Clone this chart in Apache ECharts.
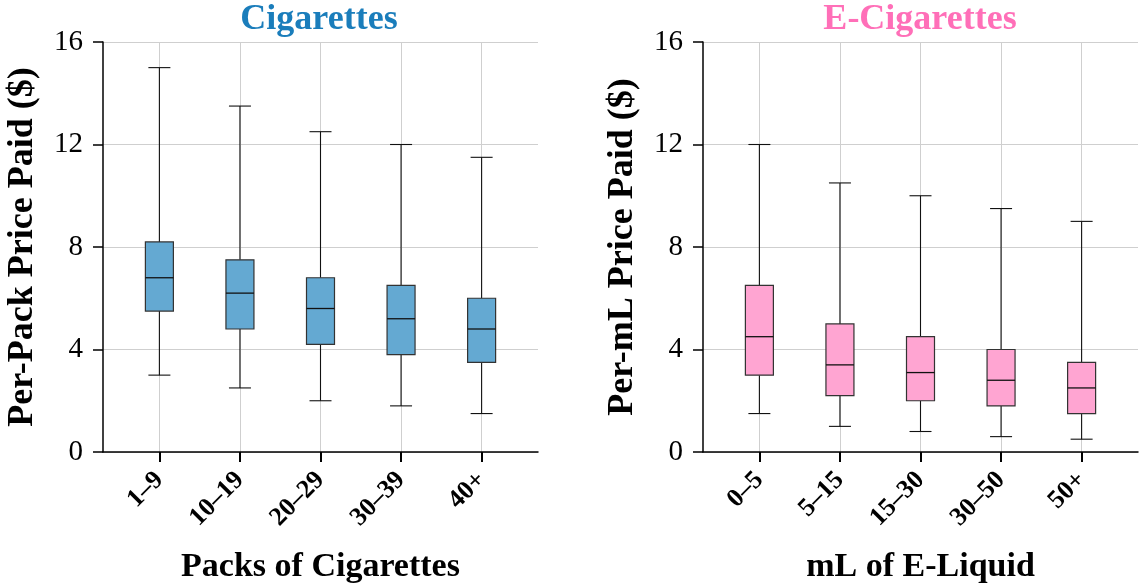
<!DOCTYPE html>
<html><head><meta charset="utf-8">
<script src="https://cdn.jsdelivr.net/npm/echarts@6/dist/echarts.min.js"></script>
<style>html,body{margin:0;padding:0;background:#fff}#c{width:1144px;height:588px}</style>
</head><body><div id="c"></div>
<script>
// ---- data ----
const cigCategories = ['1–9', '10–19', '20–29', '30–39', '40+'];
const cigLow    = [3.0, 2.5, 2.0, 1.8, 1.5];
const cigQ1     = [5.5, 4.8, 4.2, 3.8, 3.5];
const cigMedian = [6.8, 6.2, 5.6, 5.2, 4.8];
const cigQ3     = [8.2, 7.5, 6.8, 6.5, 6.0];
const cigHigh   = [15.0, 13.5, 12.5, 12.0, 11.5];

const ecigCategories = ['0–5', '5–15', '15–30', '30–50', '50+'];
const ecigLow    = [1.5, 1.0, 0.8, 0.6, 0.5];
const ecigQ1     = [3.0, 2.2, 2.0, 1.8, 1.5];
const ecigMedian = [4.5, 3.4, 3.1, 2.8, 2.5];
const ecigQ3     = [6.5, 5.0, 4.5, 4.0, 3.5];
const ecigHigh   = [12.0, 10.5, 10.0, 9.5, 9.0];

const yTickValues = [0, 4, 8, 12, 16];

// ---- build ----
const FONT = '"Liberation Serif", "Times New Roman", serif';
function rows(cats, lo, q1, md, q3, hi) {
  return cats.map((c, i) => [i + 1, lo[i], q1[i], md[i], q3[i], hi[i]]);
}
function makeRender(fill) {
  return function (params, api) {
    const x = api.value(0);
    const lo = api.coord([x, api.value(1)]);
    const q1 = api.coord([x, api.value(2)]);
    const md = api.coord([x, api.value(3)]);
    const q3 = api.coord([x, api.value(4)]);
    const hi = api.coord([x, api.value(5)]);
    const cx = lo[0];
    const bw = 28, cw = 22;
    const ls = { stroke: '#111', lineWidth: 1.1 };
    return {
      type: 'group',
      children: [
        { type: 'line', shape: { x1: cx, y1: q3[1], x2: cx, y2: hi[1] }, style: ls },
        { type: 'line', shape: { x1: cx, y1: lo[1], x2: cx, y2: q1[1] }, style: ls },
        { type: 'line', shape: { x1: cx - cw / 2, y1: hi[1], x2: cx + cw / 2, y2: hi[1] }, style: ls },
        { type: 'line', shape: { x1: cx - cw / 2, y1: lo[1], x2: cx + cw / 2, y2: lo[1] }, style: ls },
        { type: 'rect', shape: { x: cx - bw / 2, y: q3[1], width: bw, height: q1[1] - q3[1] },
          style: { fill: fill, stroke: '#333', lineWidth: 1.2 } },
        { type: 'line', shape: { x1: cx - bw / 2, y1: md[1], x2: cx + bw / 2, y2: md[1] },
          style: { stroke: '#111', lineWidth: 1.3 } }
      ]
    };
  };
}
function xAxisFor(idx, cats, name) {
  const pos = cats.map((c, i) => i + 1);
  return {
    type: 'value', gridIndex: idx, min: 0.3, max: 5.7,
    name: name, nameLocation: 'middle', nameGap: 98,
    nameTextStyle: { fontFamily: FONT, fontWeight: 'bold', fontSize: 34, color: '#000' },
    axisLine: { show: true, onZero: false, lineStyle: { color: '#000', width: 1.5 } },
    axisTick: { show: true, customValues: pos, length: 10, lineStyle: { color: '#000', width: 2 } },
    axisLabel: {
      customValues: pos, rotate: 45, margin: 24, padding: [22, 0, 0, 0],
      formatter: v => cats[Math.round(v) - 1],
      fontFamily: FONT, fontWeight: 'bold', fontSize: 26, color: '#000'
    },
    splitLine: { show: true, lineStyle: { color: '#cfcfcf', width: 1 } }
  };
}
function yAxisFor(idx, name) {
  return {
    type: 'value', gridIndex: idx, min: 0, max: 16, interval: 4,
    name: name, nameLocation: 'middle', nameGap: 62, nameRotate: 90,
    nameTextStyle: { fontFamily: FONT, fontWeight: 'bold', fontSize: 36, color: '#000' },
    axisLine: { show: true, lineStyle: { color: '#000', width: 1.5 } },
    axisTick: { show: true, length: 10, lineStyle: { color: '#000', width: 1.5 } },
    axisLabel: {
      margin: 20, fontFamily: FONT, fontSize: 29, color: '#000',
      customValues: yTickValues
    },
    splitLine: { show: true, lineStyle: { color: '#cfcfcf', width: 1 } }
  };
}

const option = {
  animation: false,
  backgroundColor: '#fff',
  title: [
    { text: 'Cigarettes', left: 314, top: -3, textAlign: 'center',
      textStyle: { fontFamily: FONT, fontWeight: 'bold', fontSize: 36, color: '#1a7dbb' } },
    { text: 'E-Cigarettes', left: 915, top: -3, textAlign: 'center',
      textStyle: { fontFamily: FONT, fontWeight: 'bold', fontSize: 36, color: '#ff6fb8' } }
  ],
  grid: [
    { left: 103, right: 606, top: 42, bottom: 136, containLabel: false, outerBoundsMode: 'none' },
    { left: 703, right: 6, top: 42, bottom: 136, containLabel: false, outerBoundsMode: 'none' }
  ],
  xAxis: [
    xAxisFor(0, cigCategories, 'Packs of Cigarettes'),
    xAxisFor(1, ecigCategories, 'mL of E-Liquid')
  ],
  yAxis: [
    yAxisFor(0, 'Per-Pack Price Paid ($)'),
    yAxisFor(1, 'Per-mL Price Paid ($)')
  ],
  series: [
    { type: 'custom', xAxisIndex: 0, yAxisIndex: 0,
      data: rows(cigCategories, cigLow, cigQ1, cigMedian, cigQ3, cigHigh),
      encode: { x: 0, y: [1, 2, 3, 4, 5] },
      renderItem: makeRender('#64a9d2') },
    { type: 'custom', xAxisIndex: 1, yAxisIndex: 1,
      data: rows(ecigCategories, ecigLow, ecigQ1, ecigMedian, ecigQ3, ecigHigh),
      encode: { x: 0, y: [1, 2, 3, 4, 5] },
      renderItem: makeRender('#ffa5d2') }
  ]
};
const chart = echarts.init(document.getElementById('c'), null, { renderer: 'canvas' });
chart.setOption(option);
</script>
</body></html>
